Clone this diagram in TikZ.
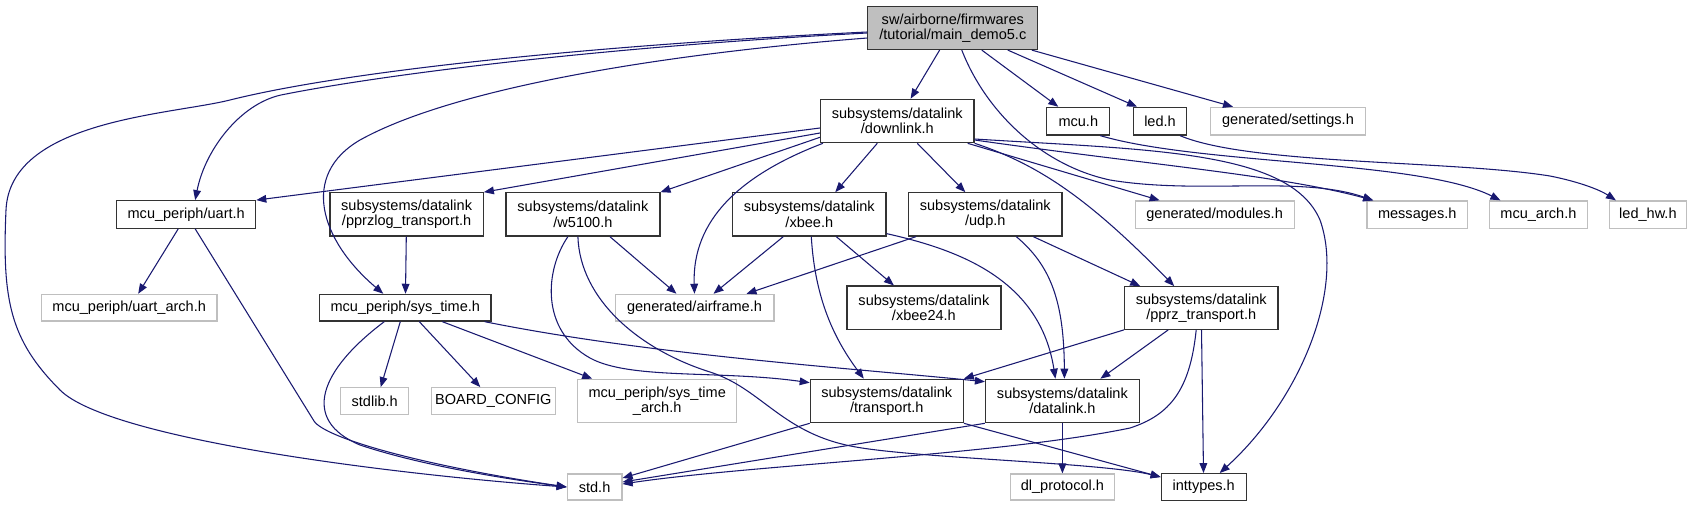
\documentclass[tikz,border=0pt]{standalone}
\usepackage{fontspec}
\setmainfont{Liberation Sans}
\usetikzlibrary{arrows.meta,calc}
\definecolor{edgeblue}{RGB}{25,25,112}
\definecolor{boxgray}{RGB}{191,191,191}
\begin{document}
\begin{tikzpicture}[x=0.75pt,y=-0.75pt,
  every node/.style={font=\fontsize{10.9pt}{11.6pt}\selectfont, align=center, inner sep=0pt},
  sz/.style 2 args={minimum width=#1*0.75pt, minimum height=#2*0.75pt},
  nb/.style={draw=black!80, line width=0.9pt, fill=white},
  ng/.style={draw=boxgray, line width=0.9pt, fill=white},
  nmain/.style={draw=black!80, line width=0.9pt, fill=boxgray},
  e/.style={draw=edgeblue, line width=0.8pt, -{Triangle[length=7.5pt,width=5.8pt]}}]
\useasboundingbox (0,0) rectangle (1691,507);
% rank 0
\node[nmain, sz={170}{43}] (main) at (952.8,28) {sw/airborne/firmwares\\/tutorial/main\_demo5.c};
% rank 1
\node[nb, sz={153.5}{43.4}] (downlink) at (897.3,121) {subsystems/datalink\\/downlink.h};
\node[nb, sz={63}{27.7}] (mcu) at (1078.3,121.2) {mcu.h};
\node[nb, sz={53.5}{27.7}] (led) at (1160,121.2) {led.h};
\node[ng, sz={155.3}{27.7}] (settings) at (1288,121.2) {generated/settings.h};
% rank 2
\node[nb, sz={139}{27.6}] (uart) at (186.2,214.5) {mcu\_periph/uart.h};
\node[nb, sz={153.4}{43.3}] (pprzlog) at (406.6,214.4) {subsystems/datalink\\/pprzlog\_transport.h};
\node[nb, sz={154}{43.3}] (w5100) at (582.9,214.4) {subsystems/datalink\\/w5100.h};
\node[nb, sz={153.5}{43.3}] (xbee) at (809.3,214.4) {subsystems/datalink\\/xbee.h};
\node[nb, sz={153.5}{43.3}] (udp) at (985.3,214.4) {subsystems/datalink\\/udp.h};
\node[ng, sz={159}{27.3}] (modules) at (1214.6,214.6) {generated/modules.h};
\node[ng, sz={100.6}{27.3}] (messages) at (1417.2,214.6) {messages.h};
\node[ng, sz={98}{27.3}] (mcuarch) at (1538.4,214.6) {mcu\_arch.h};
\node[ng, sz={77.3}{27.3}] (ledhw) at (1647.9,214.6) {led\_hw.h};
% rank 3
\node[ng, sz={175.7}{26.7}] (uartarch) at (129.2,307.7) {mcu\_periph/uart\_arch.h};
\node[nb, sz={171.5}{26.7}] (systime) at (405.3,307.7) {mcu\_periph/sys\_time.h};
\node[ng, sz={158.8}{26.7}] (airframe) at (694.5,307.7) {generated/airframe.h};
\node[nb, sz={154}{43.3}] (xbeetf) at (923.9,307.7) {subsystems/datalink\\/xbee24.h};
\node[nb, sz={153.4}{42.6}] (pprz) at (1201.2,308) {subsystems/datalink\\/pprz\_transport.h};
% rank 4
\node[ng, sz={68}{26.6}] (stdlib) at (374.7,401) {stdlib.h};
\node[ng, sz={124}{26.6}] (board) at (493.3,401) {BOARD\_CONFIG};
\node[ng, sz={159}{43.4}] (systimearch) at (657.2,401) {mcu\_periph/sys\_time\\\_arch.h};
\node[nb, sz={153}{43.4}] (transport) at (886.8,401) {subsystems/datalink\\/transport.h};
\node[nb, sz={153.8}{43.4}] (datalink) at (1062.4,401) {subsystems/datalink\\/datalink.h};
% rank 5
\node[ng, sz={54.7}{26}] (std) at (594.6,487) {std.h};
\node[ng, sz={104}{26}] (dlprotocol) at (1062.4,487) {dl\_protocol.h};
\node[nb, sz={85}{26.7}] (inttypes) at (1203.7,487) {inttypes.h};

% edges from main
\draw[e] (main) -- (downlink);
\draw[e] ($(main.south)+(29,0)$) -- ($(mcu.north)+(-20,0)$);
\draw[e] ($(main.south)+(55,0)$) -- ($(led.north)+(-23,0)$);
\draw[e] ($(main.south)+(79,0)$) -- ($(settings.north)+(-55,0)$);
\draw[e] ($(main.west)+(0,5)$) .. controls (600,47) and (380,75) .. (281,95) .. controls (240,104) and (205,150) .. ($(uart.north)+(9,0)$);
\draw[e] ($(main.west)+(0,4)$) .. controls (600,45) and (350,70) .. (230,100) .. controls (170,115) and (10,120) .. (6,210) .. controls (2,300) and (10,340) .. (60,390) .. controls (110,440) and (400,475) .. (std.west);
\draw[e] ($(main.west)+(0,10)$) .. controls (650,55) and (450,90) .. (360,140) .. controls (300,175) and (320,240) .. ($(systime.north)+(-22,0)$);
\draw[e] ($(main.south)+(9,0)$) .. controls (985,110) and (1040,165) .. (1110,180) .. controls (1200,195) and (1300,175) .. ($(messages.north)+(-44,0)$);

% edges from downlink
\draw[e] ($(downlink.west)+(0,7)$) -- (uart.north east);
\draw[e] ($(downlink.west)+(0,12)$) -- (pprzlog.north east);
\draw[e] ($(downlink.south west)+(0,-6)$) -- (w5100.north east);
\draw[e] ($(downlink.south west)+(3,0)$) .. controls (740,175) and (692,220) .. (airframe.north);
\draw[e] ($(downlink.south)+(-20,0)$) -- ($(xbee.north)+(26,0)$);
\draw[e] ($(downlink.south)+(20,0)$) -- ($(udp.north)+(-20,0)$);
\draw[e] ($(downlink.south east)+(-7,0)$) -- ($(modules.north)+(-55,0)$);
\draw[e] (downlink.south east) .. controls (1040,165) and (1090,200) .. ($(pprz.north)+(-27,0)$);
\draw[e] ($(downlink.east)+(0,19)$) .. controls (1150,165) and (1280,175) .. ($(messages.north)+(-44,0)$);
\draw[e] ($(downlink.east)+(0,18)$) .. controls (1150,150) and (1290,150) .. (1320,220) .. controls (1345,290) and (1300,400) .. ($(inttypes.north)+(16,0)$);

% mcu, led
\draw[e] ($(mcu.south)+(22,0)$) .. controls (1200,165) and (1420,160) .. ($(mcuarch.north)+(-38,0)$);
\draw[e] ($(led.south)+(20,0)$) .. controls (1250,165) and (1450,160) .. (1550,176) .. controls (1580,182) and (1600,190) .. ($(ledhw.north)+(-32,0)$);

% rank 2 edges
\draw[e] ($(uart.south)+(-8,0)$) -- ($(uartarch.north)+(9,0)$);
\draw[e] ($(uart.south)+(9,0)$) -- (314,421) .. controls (325,438) and (420,465) .. (std.west);
\draw[e] (pprzlog) -- (systime);
\draw[e] ($(w5100.south)+(27,0)$) -- ($(airframe.north)+(-18,0)$);
\draw[e] ($(w5100.south)+(-15,0)$) .. controls (545,270) and (540,330) .. (590,358) .. controls (630,380) and (720,370) .. ($(transport.north west)+(0,4)$);
\draw[e] ($(w5100.south)+(-5,0)$) .. controls (580,300) and (640,350) .. (710,372) .. controls (760,388) and (780,430) .. (846,445) .. controls (900,458) and (1100,462) .. ($(inttypes.west)+(0,-10)$);
\draw[e] ($(xbee.south)+(-26,0)$) -- ($(airframe.north)+(19,0)$);
\draw[e] ($(xbee.south)+(27,0)$) -- ($(xbeetf.north)+(-30,0)$);
\draw[e] ($(xbee.south)+(2,0)$) .. controls (815,300) and (835,340) .. ($(transport.north)+(-23,0)$);
\draw[e] ($(xbee.south east)+(0,-3)$) .. controls (960,250) and (1040,280) .. ($(datalink.north)+(-7,0)$);
\draw[e] ($(udp.south west)+(8,0)$) -- ($(airframe.north)+(52,0)$);
\draw[e] ($(udp.south)+(31,0)$) .. controls (1050,265) and (1064,300) .. ($(datalink.north)+(2,0)$);
\draw[e] ($(udp.south)+(48,0)$) -- ($(pprz.north)+(-61,0)$);

% rank 3 edges
\draw[e] ($(systime.south)+(-21,0)$) .. controls (320,370) and (300,420) .. (360,445) .. controls (420,465) and (500,478) .. (std.west);
\draw[e] ($(systime.south)+(-5,0)$) -- ($(stdlib.north)+(6,0)$);
\draw[e] ($(systime.south)+(14,0)$) -- ($(board.north)+(-13,0)$);
\draw[e] ($(systime.south)+(37,0)$) -- ($(systimearch.north)+(-65,0)$);
\draw[e] ($(systime.south east)+(-7,0)$) .. controls (650,355) and (850,368) .. ($(datalink.north west)+(0,3)$);
\draw[e] (pprz.south west) -- (transport.north east);
\draw[e] ($(pprz.south)+(-33,0)$) -- ($(datalink.north)+(38,0)$);
\draw[e] ($(pprz.south)+(-5,0)$) .. controls (1190,390) and (1170,415) .. (1130,428) .. controls (1000,455) and (750,465) .. ($(std.east)+(0,-3)$);
\draw[e] (pprz) -- (inttypes);

% rank 4 edges
\draw[e] (transport.south west) -- ($(std.east)+(0,-9)$);
\draw[e] (transport.south east) -- ($(inttypes.west)+(0,-10)$);
\draw[e] (datalink.south west) -- ($(std.east)+(0,-5)$);
\draw[e] (datalink) -- (dlprotocol);
\end{tikzpicture}
\end{document}
